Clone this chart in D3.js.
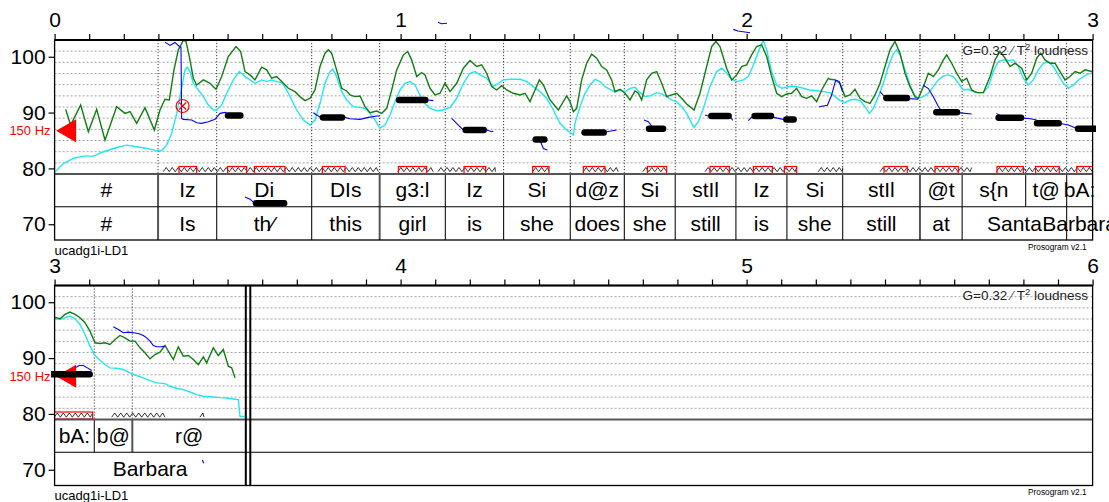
<!DOCTYPE html>
<html><head><meta charset="utf-8">
<script src="https://cdn.jsdelivr.net/npm/d3@7"></script>
<style>body{margin:0;background:#fff} svg{display:block;font-family:"Liberation Sans",Arial,Helvetica,sans-serif}</style>
</head><body><svg id="c" width="1109" height="502"></svg>
<script>
// ---------------- DATA ----------------
const panelStarts = [0, 3];
const panelDuration = 3;
const yTickValues = [70, 80, 90, 100];
const gridValues = [81, 83, 85, 87, 89, 91, 93, 95, 97, 99, 101];
const pitchDomain = [79, 103];
const refPitchST = 86.74;           // 150 Hz
const refPitchLabel = "150 Hz";
const gainLabel = ["G=0.32 ", "\u2044", " T", "2", " loudness"];
const fileLabel = "ucadg1i-LD1";
const versionLabel = "Prosogram v2.1";
const endTime = 3.5526;
const heavyBoundaries = [0.299, 0.9395, 2.501, 3.2246];

const greenCurve = [[0.032,90.58],[0.0464,87.77],[0.0753,91.36],[0.0975,86.57],[0.1216,90.58],[0.1457,85.07],[0.1794,91.06],[0.2035,89.86],[0.2179,90.16],[0.2372,88.07],[0.2613,90.88],[0.2883,86.87],[0.3046,90.46],[0.319,92.38],[0.3316,92.26],[0.345,97.65],[0.3576,101.24],[0.372,102.92],[0.3798,102.74],[0.3894,100.04],[0.4009,96.15],[0.4106,94.95],[0.4299,95.85],[0.4491,95.25],[0.4665,94.17],[0.4828,96.45],[0.502,100.04],[0.5243,101.84],[0.5378,100.94],[0.5503,97.35],[0.5647,96.75],[0.579,95.85],[0.5985,98.13],[0.6129,97.65],[0.6273,96.15],[0.6418,96.45],[0.6562,95.55],[0.6755,94.35],[0.6948,93.75],[0.709,92.86],[0.7237,92.14],
[0.7382,92.56],[0.7526,94.05],[0.767,98.25],[0.7815,100.64],[0.7911,101.24],[0.8007,100.64],[0.815,97.65],[0.8297,94.35],[0.8441,93.87],[0.8538,93.16],[0.8682,92.86],[0.8827,92.98],[0.8971,91.06],[0.9116,89.98],[0.9309,90.28],[0.9453,89.86],[0.9598,90.76],[0.9742,94.05],[0.9887,97.65],[1.008,100.34],[1.0205,100.94],[1.032,99.44],[1.0465,96.45],[1.061,97.17],[1.0706,96.75],[1.085,94.35],[1.0995,93.16],[1.114,93.46],[1.1283,95.25],[1.1428,93.75],[1.1621,95.25],[1.1814,97.95],[1.2006,99.32],[1.22,98.25],[1.2343,98.54],[1.2488,97.05],[1.2632,94.65],[1.2777,94.05],[1.2921,94.83],[1.3066,94.05],[1.3259,93.46],[1.3451,93.16],[1.3596,93.46],[1.374,91.96],[1.3885,94.05],[1.401,95.85],[1.4126,94.95],[1.432,92.26],[1.456,90.46],[1.48,92.98],
[1.4896,91.96],[1.4992,90.16],[1.5089,90.76],[1.5233,95.85],[1.5378,98.84],[1.5522,100.46],[1.5667,99.74],[1.5811,98.25],[1.5956,97.65],[1.61,95.85],[1.6197,93.75],[1.6341,94.17],[1.6486,93.46],[1.663,92.26],[1.6775,93.87],[1.6871,93.46],[1.6967,92.26],[1.7112,95.85],[1.7256,97.05],[1.7401,97.35],[1.7545,95.25],[1.769,92.86],[1.7834,93.16],[1.7979,93.46],[1.8123,92.56],[1.8268,91.54],[1.848,90.46],[1.8653,93.46],[1.8846,98.25],[1.899,101.84],[1.9115,102.74],[1.923,101.84],[1.9423,97.95],[1.9568,95.85],[1.9713,96.75],[1.9857,98.25],[2.0002,98.54],[2.0146,100.34],[2.029,101.84],[2.0435,102.14],[2.058,100.04],[2.0724,96.45],[2.0869,93.46],[2.1013,92.86],[2.1158,93.34],[2.1302,93.46],[2.1447,94.35],[2.1591,92.86],[2.1736,92.56],[2.188,92.98],[2.2025,91.96],[2.217,94.05],[2.2362,96.15],
[2.241,95.97],[2.2555,95.85],[2.27,95.25],[2.2844,92.86],[2.2989,93.16],[2.3133,94.17],[2.3278,92.56],[2.3422,91.96],[2.3567,91.66],[2.3711,93.16],[2.3856,95.25],[2.4,98.25],[2.4145,101.24],[2.4289,102.74],[2.4434,100.64],[2.4578,97.05],[2.4723,94.65],[2.4867,92.86],[2.4964,92.56],[2.5108,94.65],[2.5253,97.05],[2.5397,96.45],[2.5542,97.65],[2.5686,99.44],[2.5783,100.34],[2.5927,98.84],[2.6072,97.05],[2.6216,95.55],[2.6361,96.15],[2.6505,94.05],[2.665,93.57],[2.6842,93.57],[2.7035,96.45],[2.718,99.44],[2.7324,100.94],[2.7469,99.74],[2.7613,98.25],[2.7758,98.84],[2.795,97.95],[2.8095,95.85],[2.8239,97.05],[2.8384,99.74],[2.85,100.64],[2.8625,99.44],[2.8769,98.84],[2.8914,98.84],[2.9058,97.35],[2.9203,95.85],[2.9347,96.45],[2.9492,97.35],[2.9636,97.05],[2.9781,97.65],[2.9974,97.35],
[3.0156,97.05],[3.0301,97.83],[3.0445,98.25],[3.059,97.83],[3.0734,97.23],[3.0879,96.33],[3.1023,94.83],[3.1168,92.74],[3.1312,92.62],[3.1457,92.74],[3.1601,92.44],[3.1746,93.34],[3.189,94.05],[3.2035,93.63],[3.2179,93.04],[3.2324,93.04],[3.2468,91.84],[3.2613,90.94],[3.2757,89.86],[3.2902,90.64],[3.3046,91.06],[3.3191,92.26],[3.3287,91.24],[3.3432,89.74],[3.3576,92.02],[3.3721,90.34],[3.3865,90.46],[3.401,89.74],[3.4154,88.84],[3.4299,90.22],[3.4395,89.14],[3.4588,91.84],[3.4732,90.46],[3.4877,91.54],[3.5021,88.54],[3.5118,88.25],[3.5214,86.45]];

const cyanCurve = [[0.0012,79.38],[0.0252,80.88],[0.0541,81.78],[0.083,82.2],[0.112,82.2],[0.1408,82.98],[0.1794,83.75],[0.2083,84.17],[0.2372,83.87],[0.2661,83.57],[0.2902,83.27],[0.3094,83.16],[0.3239,84.17],[0.3383,86.27],[0.3528,89.86],[0.3672,94.35],[0.3769,97.65],[0.3836,98.13],[0.3913,97.35],[0.4009,95.25],[0.4154,94.05],[0.4299,92.86],[0.4443,91.36],[0.4588,90.46],[0.4684,90.46],[0.4828,91.36],[0.4973,93.46],[0.5166,95.85],[0.5339,97.35],[0.5503,96.45],[0.5647,95.85],[0.579,95.25],[0.5985,95.85],[0.6129,95.55],[0.6273,95.85],[0.6418,95.55],[0.6562,95.37],[0.6707,94.05],[0.6852,92.26],[0.6996,90.46],[0.7189,88.66],
[0.7382,87.77],[0.7526,88.66],[0.767,91.66],[0.7815,95.25],[0.796,97.35],[0.8037,97.77],[0.815,96.45],[0.8297,93.75],[0.8441,92.26],[0.8634,91.06],[0.8827,90.94],[0.8971,90.76],[0.9116,89.86],[0.926,88.66],[0.9405,87.17],[0.955,87.77],[0.9694,89.56],[0.9838,91.96],[0.9983,94.05],[1.0127,95.25],[1.0272,95.55],[1.0416,94.95],[1.056,93.16],[1.0706,91.66],[1.085,90.76],[1.1043,90.34],[1.1235,90.46],[1.1428,90.94],[1.1621,92.56],[1.1814,95.25],[1.2006,97.05],[1.2151,97.35],[1.2295,96.75],[1.2488,96.15],[1.2681,94.65],[1.2825,95.25],[1.297,95.85],[1.3162,95.97],[1.3451,95.97],[1.3644,95.55],[1.3836,94.65],[1.4029,93.75],[1.4222,92.56],[1.4414,90.46],[1.4607,88.07],[1.48,86.87],[1.4993,85.97],
[1.504,88.07],[1.5185,91.06],[1.5329,93.46],[1.5474,94.95],[1.5618,95.97],[1.5763,95.55],[1.5908,94.65],[1.6052,94.17],[1.6197,93.75],[1.6341,94.05],[1.6486,93.75],[1.663,94.35],[1.6775,94.53],[1.692,93.57],[1.7064,92.86],[1.7209,92.98],[1.7401,93.57],[1.7545,93.34],[1.769,92.86],[1.7834,92.26],[1.7979,91.96],[1.8123,91.06],[1.8268,89.86],[1.8412,88.07],[1.848,87.35],[1.8605,88.37],[1.875,90.76],[1.8942,94.65],[1.9135,97.35],[1.9279,97.95],[1.9424,97.05],[1.9568,95.97],[1.9713,95.55],[1.9906,95.85],[2.005,96.45],[2.0195,98.54],[2.0339,100.94],[2.0484,102.92],[2.058,101.24],[2.0724,97.35],[2.0869,94.95],[2.1013,94.35],[2.1158,94.53],[2.1302,94.77],[2.1447,94.65],[2.164,94.35],[2.1832,94.05],[2.2025,93.93],[2.2218,93.75],
[2.241,93.57],[2.2555,92.86],[2.27,92.14],[2.2844,91.78],[2.2989,92.26],[2.3133,92.38],[2.3278,92.14],[2.3422,91.06],[2.3547,89.86],[2.3663,90.76],[2.3807,92.86],[2.3952,95.25],[2.4096,98.25],[2.4241,100.52],[2.4337,101.24],[2.4434,100.34],[2.4578,97.65],[2.4723,94.95],[2.4867,92.86],[2.4964,92.56],[2.5108,92.86],[2.5253,93.46],[2.5397,94.65],[2.5542,95.85],[2.5686,96.57],[2.5831,96.75],[2.5975,96.45],[2.612,95.25],[2.6264,94.05],[2.6409,94.17],[2.6553,93.75],[2.6698,93.57],[2.6842,93.57],[2.6987,94.65],[2.7131,97.35],[2.7276,99.14],[2.742,99.44],[2.7565,99.32],[2.771,99.44],[2.7854,98.25],[2.7999,96.15],[2.8143,94.95],[2.8288,95.85],[2.8432,97.65],[2.8577,98.84],[2.8721,99.14],[2.8866,98.25],[2.901,96.75],[2.9155,95.25],[2.93,94.35],[2.9444,94.95],[2.9589,95.85],[2.9733,96.45],[2.9878,96.93],[3.0022,97.05],
[3.0156,96.93],[3.0301,97.23],[3.0445,97.53],[3.059,97.05],[3.0734,96.03],[3.0879,94.23],[3.1023,92.14],[3.1168,90.46],[3.1312,89.62],[3.1457,88.84],[3.1601,88.25],[3.1794,88.19],[3.1987,87.95],[3.2179,87.35],[3.2372,86.87],[3.2565,86.45],[3.2757,85.97],[3.295,85.55],[3.3191,85.43],[3.3335,84.95],[3.3528,84.59],[3.3721,84.35],[3.3913,83.93],[3.4106,83.46],[3.4299,83.16],[3.4588,83.04],[3.4781,82.92],[3.4973,82.86],[3.5166,82.68],[3.5311,82.56],[3.5358,79.56],[3.5551,79.56]];

const bluePitch = [
 [[0.319,102.62],[0.3335,102.02],[0.3479,102.56],[0.3605,101.84],[0.3653,101.72],[0.3672,88.96],[0.372,88.78],[0.3961,88.66],[0.4106,88.19],[0.425,88.07],[0.4443,88.37],[0.4636,88.78],[0.4781,89.86],[0.4925,90.04],[0.507,89.56]],
 [[0.5503,74.88],[0.5650,74.5],[0.5734,74.0]],
 [[0.7478,89.98],[0.7574,89.56],[0.767,89.2],[0.8393,89.14],[0.8538,88.9],[0.8827,88.78],[0.9067,89.14],[0.9309,89.38],[0.9395,89.38]],
 [[1.0802,92.26],[1.0946,92.14]],
 [[1.108,106.2],[1.118,105.9],[1.134,106.0]],
 [[1.1476,88.96],[1.1669,87.77],[1.1794,87.0],[1.2488,86.87],[1.2632,86.57],[1.2681,86.69]],
 [[1.4029,85.0],[1.4126,83.57],[1.4241,83.28]],
 [[1.5956,86.57],[1.6245,86.87]],
 [[1.7034,88.66],[1.716,88.37],[1.7256,87.59],[1.73,87.1]],
 [[1.8798,89.56],[1.8895,89.38],[1.95,89.38],[1.9568,88.9],[1.96,88.6]],
 [[1.9616,104.9],[1.975,104.6],[2.0,104.4],[2.01,104.3]],
 [[2.005,88.54],[2.0146,89.2],[2.0791,89.14],[2.1059,88.78]],
 [[2.2095,91.05],[2.2335,91.3],[2.245,93.0],[2.2575,95.8],[2.2675,95.6],[2.2768,93.8]],
 [[2.3856,93.75],[2.3952,93.1],[2.4723,92.5],[2.4964,92.38]],
 [[2.5108,94.9],[2.5253,94.3],[2.54,92.8],[2.555,91.0],[2.565,90.2],[2.6168,89.95],[2.6505,89.74]],
 [[2.7218,89.86],[2.74,89.2],[2.8017,89.0],[2.82,88.9],[2.8384,88.66]],
 [[2.8307,88.1],[2.9106,88.0],[2.93,87.77],[2.9492,87.3]],
 [[3.0445,87.95],[3.059,88.25],[3.0715,88.66],[3.083,88.66],[3.0947,88.25],[3.1072,87.77]],
 [[3.1697,95.61],[3.1842,95.13],[3.1986,94.53],[3.2131,94.65],[3.2276,94.53],[3.242,94.41],[3.2565,94.05],[3.2661,93.63],[3.2757,93.04],[3.2854,92.26],[3.295,92.02],[3.3095,92.02],[3.319,92.14]],
 [[3.4270,71.75],[3.4300,71.3],[3.4310,71.15]]
];

// stylized nuclei: [start, end, semitones]
const nuclei = [[0.4925,0.5455,89.5],[0.5734,0.672,73.75],[0.767,0.8393,89.14],[0.9868,1.0802,92.26],[1.1794,1.2488,86.87],[1.3817,1.4241,85.19],[1.523,1.5956,86.45],[1.7093,1.7671,87.1],[1.8895,1.9568,89.38],[2.0146,2.0791,89.38],[2.1062,2.1447,88.78],[2.3952,2.4723,92.62],[2.5397,2.6168,90.04],[2.7198,2.8017,89.08],[2.8307,2.9106,88.07],[2.9492,3.11,87.1]];
const nucleusRects = [[0.3595,0.4106],[0.5002,0.5551],[0.5773,0.6659],[0.774,0.8393],[0.9935,1.0753],[1.1833,1.2459],[1.3817,1.4289],[1.5281,1.5907],[1.7132,1.769],[1.8942,1.9501],[2.0195,2.0744],[2.1092,2.1447],[2.3971,2.4645],[2.5445,2.6119],[2.7237,2.7999],[2.8352,2.9037],[2.9541,3.11]];
const voiced = [[0.314,0.936],[0.992,1.094],[1.108,1.274],[1.3817,1.4289],[1.528,1.629],[1.70,1.769],[1.88,2.1447],[2.207,2.278],[2.3856,2.6505],[2.7218,3.11],[3.165,3.319],[3.42,3.432]];
const rejectedNucleus = [[0.370, 91.18]];

const syllables = [[0,0.299,"#"],[0.299,0.4685,"Iz"],[0.4685,0.743,"Di"],[0.743,0.9395,"DIs"],[0.9395,1.1293,"g3:l"],[1.1293,1.2977,"Iz"],[1.2977,1.4904,"Si"],[1.4904,1.6466,"d@z"],[1.6466,1.7937,"Si"],[1.7937,1.9691,"stIl"],[1.9691,2.1165,"Iz"],[2.1165,2.2777,"Si"],[2.2777,2.501,"stIl"],[2.501,2.623,"@t"],[2.623,2.8066,"s{n"],[2.8066,2.925,"t@"],[2.925,3.1147,"bA:"],[3.1147,3.2246,"b@"],[3.2246,3.5526,"r@"]];
const words = [[0,0.299,"#"],[0.299,0.4685,"Is"],[0.4685,0.743,"th\u2044"],[0.743,0.9395,"this"],[0.9395,1.1293,"girl"],[1.1293,1.2977,"is"],[1.2977,1.4904,"she"],[1.4904,1.6466,"does"],[1.6466,1.7937,"she"],[1.7937,1.9691,"still"],[1.9691,2.1165,"is"],[2.1165,2.2777,"she"],[2.2777,2.501,"still"],[2.501,2.623,"at"],[2.623,2.925,"Santa"],[2.925,3.5526,"Barbara"]];

// ---------------- DRAW ----------------
const svg = d3.select("#c");
const defs = svg.append("defs");
const L = 54.6, R = 1092.6;
const panelTops = [40, 285.5];
const PH = 134, T1H = 32.7, T2H = 33.3;
const FONT = '"Liberation Sans",Arial,Helvetica,sans-serif';

panelStarts.forEach((t0, i) => {
  const top = panelTops[i];
  const pBot = top + PH, t1Bot = pBot + T1H, t2Bot = t1Bot + T2H;
  const t1 = t0 + panelDuration;
  const x = d3.scaleLinear().domain([t0, t1]).range([L, R]);
  const y = d3.scaleLinear().domain(pitchDomain).range([pBot, top]);
  const g = svg.append("g");

  defs.append("clipPath").attr("id", "cx" + i).append("rect")
    .attr("x", L).attr("y", top - 30).attr("width", R - L).attr("height", t2Bot - top + 40);
  defs.append("clipPath").attr("id", "cn" + i).append("rect")
    .attr("x", L - 3.5).attr("y", top - 30).attr("width", R - L + 7).attr("height", t2Bot - top + 40);
  defs.append("clipPath").attr("id", "cp" + i).append("rect")
    .attr("x", L).attr("y", top).attr("width", R - L).attr("height", PH);

  // grid
  g.append("g").selectAll("line").data(gridValues).join("line")
    .attr("x1", L).attr("x2", R).attr("y1", d => y(d)).attr("y2", d => y(d))
    .attr("stroke", "#9a9a9a").attr("stroke-width", 0.9).attr("stroke-dasharray", "2,2");

  const inPanel = t => t > t0 + 1e-6 && t < t1 - 1e-6;
  const isHeavy = t => heavyBoundaries.some(h => Math.abs(h - t) < 1e-6);
  // syllable boundaries (dotted in pitch area, solid in tier)
  const sylB = Array.from(new Set(syllables.flatMap(s => [s[0], s[1]]))).filter(t => inPanel(t) && t < endTime - 1e-6);
  const wordB = Array.from(new Set(words.flatMap(s => [s[0], s[1]]))).filter(t => inPanel(t) && t < endTime - 1e-6);
  g.append("g").selectAll("line").data(sylB).join("line")
    .attr("x1", d => x(d)).attr("x2", d => x(d)).attr("y1", top).attr("y2", pBot)
    .attr("stroke", "#222").attr("stroke-width", 0.9).attr("stroke-dasharray", "1.2,1.8");
  g.append("g").selectAll("line").data(sylB).join("line")
    .attr("x1", d => x(d)).attr("x2", d => x(d)).attr("y1", pBot).attr("y2", t1Bot)
    .attr("stroke", d => isHeavy(d) ? "#555" : "#111").attr("stroke-width", d => isHeavy(d) ? 2 : 1.1);
  g.append("g").selectAll("line").data(wordB).join("line")
    .attr("x1", d => x(d)).attr("x2", d => x(d)).attr("y1", t1Bot).attr("y2", t2Bot)
    .attr("stroke", d => isHeavy(d) ? "#555" : "#111").attr("stroke-width", d => isHeavy(d) ? 2 : 1.1);

  // curves
  const line = d3.line().x(d => x(d[0])).y(d => y(d[1]));
  const cp = g.append("g").attr("clip-path", `url(#cp${i})`);
  cp.append("path").datum(cyanCurve).attr("d", line).attr("fill", "none")
    .attr("stroke", "#22e6f2").attr("stroke-width", 1.4);
  cp.append("path").datum(greenCurve).attr("d", line).attr("fill", "none")
    .attr("stroke", "#127d12").attr("stroke-width", 1.4);

  // voiced zigzags & nucleus rectangles
  const cx = g.append("g").attr("clip-path", `url(#cx${i})`);
  const zig = d => {
    const xa = x(d[0]), xb = x(d[1]);
    const pts = [];
    let k = 0;
    for (let xx = xa; xx < xb; xx += 3, k++) pts.push([xx, k % 2 ? pBot - 6.5 : pBot - 2.3]);
    pts.push([xb, k % 2 ? pBot - 6.5 : pBot - 2.3]);
    return d3.line()(pts);
  };
  cx.append("g").selectAll("path").data(voiced).join("path")
    .attr("d", zig).attr("fill", "none").attr("stroke", "#000").attr("stroke-width", 0.8);
  cx.append("g").selectAll("rect").data(nucleusRects).join("rect")
    .attr("x", d => x(d[0])).attr("width", d => x(d[1]) - x(d[0]))
    .attr("y", pBot - 7.5).attr("height", 7)
    .attr("fill", "none").attr("stroke", "#ff0000").attr("stroke-width", 1.2);

  // raw pitch
  cx.append("g").selectAll("path").data(bluePitch).join("path")
    .attr("d", line).attr("fill", "none").attr("stroke", "#0000ff").attr("stroke-width", 1.1);

  // reference pitch triangle
  const yr = y(refPitchST);
  g.append("path").attr("d", `M${L + 1.5},${yr} L${L + 21.5},${yr - 11.5} L${L + 21.5},${yr + 11.5} Z`)
    .attr("fill", "#ff0000");
  g.append("text").attr("x", L - 4).attr("y", yr + 4.5).attr("text-anchor", "end")
    .attr("font-size", 13).attr("fill", "#ff0000").text(refPitchLabel);

  // stylized nuclei
  g.append("g").attr("clip-path", `url(#cn${i})`).selectAll("line").data(nuclei).join("line")
    .attr("x1", d => x(d[0]) + 3).attr("x2", d => x(d[1]) - 3)
    .attr("y1", d => y(d[2])).attr("y2", d => y(d[2]))
    .attr("stroke", "#000").attr("stroke-width", 6.5).attr("stroke-linecap", "round");

  // rejected nucleus marker
  const rj = cx.append("g").selectAll("g").data(rejectedNucleus).join("g")
    .attr("transform", d => `translate(${x(d[0])},${y(d[1])})`);
  rj.append("circle").attr("r", 6.5).attr("fill", "none").attr("stroke", "#ff0000").attr("stroke-width", 1.2);
  rj.append("path").attr("d", "M-3.5,-3.5L3.5,3.5M-3.5,3.5L3.5,-3.5").attr("stroke", "#ff0000").attr("stroke-width", 1.2);

  // frame lines
  g.append("line").attr("x1", L).attr("x2", R).attr("y1", pBot).attr("y2", pBot).attr("stroke", "#555").attr("stroke-width", 2);
  g.append("line").attr("x1", L).attr("x2", R).attr("y1", t1Bot).attr("y2", t1Bot).attr("stroke", "#000").attr("stroke-width", 1.1);
  g.append("rect").attr("x", L).attr("y", top).attr("width", R - L).attr("height", t2Bot - top)
    .attr("fill", "none").attr("stroke", "#000").attr("stroke-width", 1.3);
  g.append("line").attr("x1", L).attr("x2", R).attr("y1", top).attr("y2", top).attr("stroke", "#000").attr("stroke-width", 2);

  // end-of-signal double line
  if (endTime > t0 && endTime < t1) {
    [0, 4.5].forEach(off => g.append("line")
      .attr("x1", x(endTime) + off).attr("x2", x(endTime) + off).attr("y1", top).attr("y2", t2Bot)
      .attr("stroke", "#000").attr("stroke-width", 2));
  }

  // tier labels
  const tierText = (arr, base) => {
    const vis = arr.map(d => [Math.max(d[0], t0), Math.min(d[1], t1), d[2]]).filter(d => d[1] - d[0] > 1e-6);
    g.append("g").selectAll("text").data(vis).join("text")
      .attr("x", d => (x(d[0]) + x(d[1])) / 2).attr("y", base)
      .attr("text-anchor", "middle").attr("font-size", 21).attr("fill", "#000").text(d => d[2]);
  };
  tierText(syllables, pBot + 23);
  tierText(words, t1Bot + 24);

  // x axis
  const xt = d3.range(0, panelDuration * 10 + 1).map(k => t0 + k / 10);
  const xa = g.append("g").attr("transform", `translate(0,${top})`)
    .call(d3.axisTop(x).tickValues(xt).tickSize(6).tickPadding(7)
      .tickFormat(d => Math.abs(d - Math.round(d)) < 1e-6 ? String(Math.round(d)) : ""));
  xa.select(".domain").remove();
  xa.selectAll("line").attr("stroke", "#000").attr("stroke-width", 1.2);
  xa.selectAll("text").attr("font-size", 21).attr("font-family", FONT).attr("fill", "#000");

  // y axis
  const ya = g.append("g").attr("transform", `translate(${L},0)`)
    .call(d3.axisLeft(y).tickValues(yTickValues).tickSize(6).tickPadding(3).tickFormat(d3.format("d")));
  ya.select(".domain").remove();
  ya.selectAll("line").attr("stroke", "#000").attr("stroke-width", 1.2);
  ya.selectAll("text").attr("font-size", 21).attr("font-family", FONT).attr("fill", "#000");

  // gain label
  const gt = g.append("text").attr("x", R - 4.5).attr("y", top + 14.5).attr("text-anchor", "end")
    .attr("font-size", 13.5).attr("fill", "#222");
  gt.append("tspan").text(gainLabel[0]);
  gt.append("tspan").attr("fill", "#555").text(gainLabel[1]);
  gt.append("tspan").text(gainLabel[2]);
  gt.append("tspan").attr("dy", -5).attr("font-size", 9.5).text(gainLabel[3]);
  gt.append("tspan").attr("dy", 5).text(gainLabel[4]);

  // file & version labels
  g.append("text").attr("x", L).attr("y", t2Bot + 14.5).attr("font-size", 13).attr("fill", "#000").text(fileLabel);
  g.append("text").attr("x", R - 6).attr("y", t2Bot + 9.5).attr("text-anchor", "end").attr("font-size", 8.3).attr("fill", "#000").text(versionLabel);
});
</script></body></html>
